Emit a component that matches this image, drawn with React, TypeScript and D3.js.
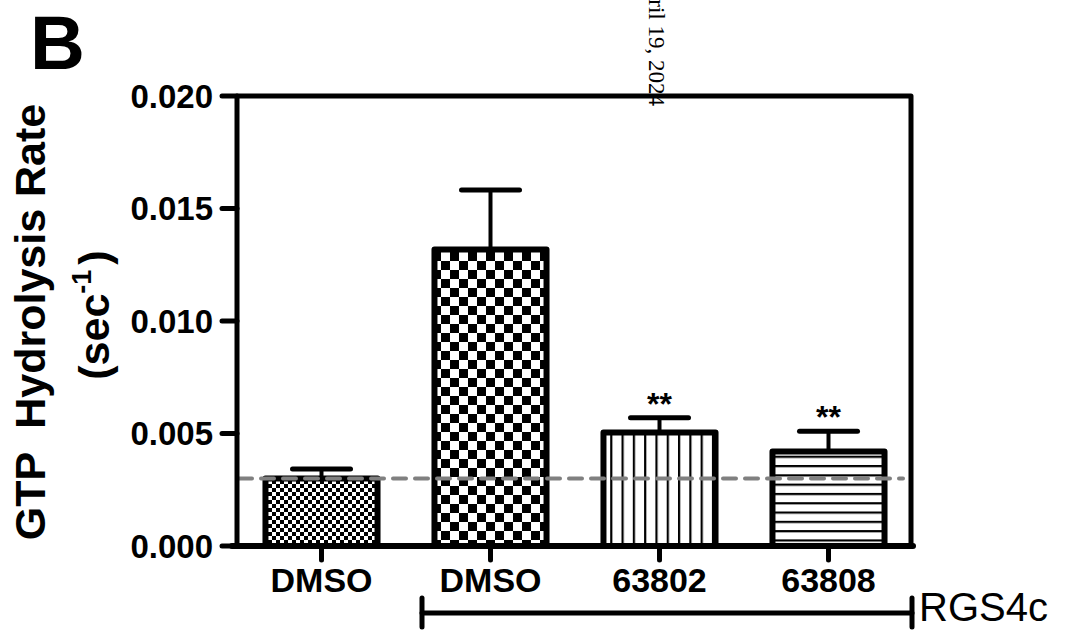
import React from 'react'
import * as d3 from 'd3'

const categories = ['DMSO', 'DMSO', '63802', '63808']
const rates = [0.003, 0.01318, 0.00504, 0.0042]
const sems = [0.00042, 0.00264, 0.00066, 0.0009]
const stars = ['', '', '**', '**']
const fills = ['url(#fineCheck)', 'url(#coarseCheck)', 'url(#vLines)', 'url(#hLines)']
const yTicks = [0, 0.005, 0.01, 0.015, 0.02]
const baseline = 0.003

const W = 1067
const H = 630
const left = 237
const right = 911
const top = 96
const bottom = 546
const font = '"Liberation Sans", Arial, sans-serif'

export default function App() {
  const y = d3.scaleLinear().domain([0, 0.02]).range([bottom, top])
  const x = d3
    .scaleBand<number>()
    .domain(d3.range(categories.length))
    .range([left, left + 676])
    .paddingInner(0.337)
    .paddingOuter(0.1685)
  const bw = x.bandwidth()
  const cx = (i: number) => (x(i) as number) + bw / 2

  return (
    <svg
      width={W}
      height={H}
      style={{ position: 'absolute', left: 0, top: 0, background: '#fff' }}
      fontFamily={font}
    >
      <defs>
        <pattern id="fineCheck" width={8} height={8} patternUnits="userSpaceOnUse">
          <rect width={8} height={8} fill="#fff" />
          <rect width={4} height={4} fill="#000" />
          <rect x={4} y={4} width={4} height={4} fill="#000" />
        </pattern>
        <pattern id="coarseCheck" width={18} height={18} patternUnits="userSpaceOnUse">
          <rect width={18} height={18} fill="#fff" />
          <rect width={9} height={9} fill="#000" />
          <rect x={9} y={9} width={9} height={9} fill="#000" />
        </pattern>
        <pattern id="vLines" width={11.3} height={10} patternUnits="userSpaceOnUse">
          <rect width={11.3} height={10} fill="#fff" />
          <rect x={0} width={2.2} height={10} fill="#000" />
        </pattern>
        <pattern id="hLines" width={10} height={9.3} patternUnits="userSpaceOnUse">
          <rect width={10} height={9.3} fill="#fff" />
          <rect y={0} width={10} height={2.2} fill="#000" />
        </pattern>
      </defs>

      {/* panel letter */}
      <text x={30} y={69} fontSize={76} fontWeight="bold">B</text>

      {/* watermark fragment */}
      <text
        transform="translate(649,106) rotate(90)"
        textAnchor="end"
        fontFamily='"Liberation Serif", "Times New Roman", serif'
        fontSize={23}
      >
        ril 19, 2024
      </text>

      {/* y axis title */}
      <g fontWeight="bold" fontSize={43} textAnchor="middle">
        <text transform={`translate(45,322) rotate(-90)`} xmlSpace="preserve">
          GTP  Hydrolysis Rate
        </text>
        <text transform={`translate(109,315) rotate(-90)`}>
          (sec
          <tspan fontSize={27} dy={-18}>-1</tspan>
          <tspan dy={18} dx={5}>)</tspan>
        </text>
      </g>

      {/* bars */}
      {rates.map((v, i) => (
        <g key={i}>
          <line
            x1={cx(i)}
            x2={cx(i)}
            y1={y(v)}
            y2={y(v + sems[i])}
            stroke="#000"
            strokeWidth={4}
          />
          <line
            x1={cx(i) - 29}
            x2={cx(i) + 29}
            y1={y(v + sems[i])}
            y2={y(v + sems[i])}
            stroke="#000"
            strokeWidth={5}
            strokeLinecap="round"
          />
          <rect
            x={x(i)}
            y={y(v)}
            width={bw}
            height={bottom - y(v)}
            fill={fills[i]}
            stroke="#000"
            strokeWidth={6}
            strokeLinejoin="round"
          />
          {stars[i] && (
            <text
              x={cx(i)}
              y={y(v + sems[i]) - 3}
              textAnchor="middle"
              fontSize={32}
              fontWeight="bold"
            >
              {stars[i]}
            </text>
          )}
        </g>
      ))}

      {/* baseline rate */}
      <line
        x1={left + 2}
        x2={right - 8}
        y1={y(baseline)}
        y2={y(baseline)}
        stroke="#808080"
        strokeWidth={4}
        strokeDasharray="13 9"
        strokeLinecap="round"
      />

      {/* frame */}
      <path
        d={`M${left},${bottom} V${top} H${right} V${bottom}`}
        fill="none"
        stroke="#000"
        strokeWidth={5}
        strokeLinejoin="round"
      />
      <line x1={left - 5} x2={right + 2} y1={bottom} y2={bottom} stroke="#000" strokeWidth={6} strokeLinecap="round" />

      {/* y ticks */}
      {yTicks.map(t => (
        <g key={t}>
          <line x1={222} x2={left} y1={y(t)} y2={y(t)} stroke="#000" strokeWidth={5} strokeLinecap="round" />
          <text x={213} y={y(t)} dy="0.36em" textAnchor="end" fontSize={33} fontWeight="bold">
            {d3.format('.3f')(t)}
          </text>
        </g>
      ))}

      {/* x ticks */}
      {categories.map((c, i) => (
        <g key={i}>
          <line x1={cx(i)} x2={cx(i)} y1={bottom} y2={560} stroke="#000" strokeWidth={5} strokeLinecap="round" />
          <text x={cx(i)} y={592} textAnchor="middle" fontSize={34} fontWeight="bold">
            {c}
          </text>
        </g>
      ))}

      {/* RGS4c bracket */}
      <g stroke="#000" strokeWidth={5} strokeLinecap="round">
        <line x1={422} x2={912} y1={613} y2={613} />
        <line x1={422} x2={422} y1={598} y2={627} />
        <line x1={912} x2={912} y1={598} y2={627} />
      </g>
      <text x={919} y={621} fontSize={40}>RGS4c</text>
    </svg>
  )
}
